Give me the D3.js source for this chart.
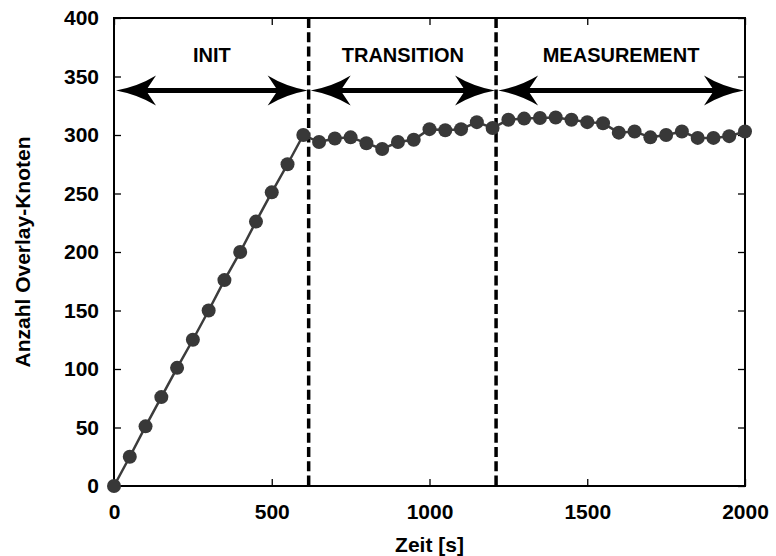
<!DOCTYPE html>
<html>
<head>
<meta charset="utf-8">
<script src="https://cdn.jsdelivr.net/npm/d3@7"></script>
<style>
  body { margin: 0; background: #fff; }
  svg text { font-family: "Liberation Sans", Arial, Helvetica, sans-serif; font-weight: bold; fill: #000; }
</style>
</head>
<body>
<svg id="chart" width="776" height="556"></svg>
<script>
// measured data
const times = [0, 50, 100, 150, 200, 250, 300, 350, 400, 450, 500, 550, 600,
  650, 700, 750, 800, 850, 900, 950, 1000, 1050, 1100, 1150, 1200,
  1250, 1300, 1350, 1400, 1450, 1500, 1550, 1600, 1650, 1700, 1750, 1800, 1850, 1900, 1950, 2000]
const nodes = [0, 25, 51, 76, 101, 125, 150, 176, 200, 226, 251, 275, 300,
  294, 297, 298, 293, 288, 294, 296, 305, 304, 305, 311, 306,
  313, 314, 314.5, 315, 313, 311, 310, 302, 303, 298, 300, 303, 297.5, 297.5, 299, 303]

const xTicks = [0, 500, 1000, 1500, 2000]
const yTicks = [0, 50, 100, 150, 200, 250, 300, 350, 400]

const phaseNames = ["INIT", "TRANSITION", "MEASUREMENT"]
const phaseBounds = [0, 617, 1211, 2000]
const arrowLevel = 338
const labelLevel = 362

const svg = d3.select("#chart")
const margin = { left: 114, top: 18, right: 31, bottom: 70 }
const W = 776, H = 556

const x = d3.scaleLinear().domain([0, 2000]).range([margin.left, W - margin.right])
const y = d3.scaleLinear().domain([0, 400]).range([H - margin.bottom, margin.top])

// ticks (inward, mirrored)
const tickLen = 7
const g = svg.append("g")
g.append("g").attr("transform", `translate(0,${y(0)})`)
  .call(d3.axisBottom(x).tickValues(xTicks).tickFormat(d3.format("d")).tickSize(-tickLen).tickPadding(18).tickSizeOuter(0))
g.append("g").attr("transform", `translate(0,${y(400)})`)
  .call(d3.axisTop(x).tickValues(xTicks).tickSize(-tickLen).tickFormat("").tickSizeOuter(0))
g.append("g").attr("transform", `translate(${x(0)},0)`)
  .call(d3.axisLeft(y).tickValues(yTicks).tickSize(-tickLen).tickPadding(15).tickSizeOuter(0))
g.append("g").attr("transform", `translate(${x(2000)},0)`)
  .call(d3.axisRight(y).tickValues(yTicks).tickSize(-tickLen).tickFormat("").tickSizeOuter(0))
g.selectAll(".domain").remove()
g.selectAll(".tick line").attr("stroke", "#000").attr("stroke-width", 1.3)
g.selectAll(".tick text").style("font-size", "21px").attr("fill", "#000")

// frame
svg.append("rect")
  .attr("x", x(0)).attr("y", y(400))
  .attr("width", x(2000) - x(0)).attr("height", y(0) - y(400))
  .attr("fill", "none").attr("stroke", "#000").attr("stroke-width", 2)

// phase separators
svg.selectAll(".sep").data(phaseBounds.slice(1, 3)).enter().append("line")
  .attr("x1", d => x(d)).attr("x2", d => x(d))
  .attr("y1", y(400)).attr("y2", y(0))
  .attr("stroke", "#000").attr("stroke-width", 3.5).attr("stroke-dasharray", "10,4.3")

// arrows
const headLen = 40, headHalf = 15
function head(tx, ty, dir) {
  // dir = +1 points right, -1 points left
  const bx = tx - dir * headLen
  const nx = tx - dir * 30
  return `M${tx},${ty} Q${tx - dir * 22},${ty - 4} ${bx},${ty - headHalf} L${nx},${ty} L${bx},${ty + headHalf} Q${tx - dir * 22},${ty + 4} ${tx},${ty} Z`
}
phaseNames.forEach((name, i) => {
  const x0 = x(phaseBounds[i]) + 2, x1 = x(phaseBounds[i + 1]) - 1
  const ay = y(arrowLevel)
  svg.append("line").attr("x1", x0 + 25).attr("x2", x1 - 25)
    .attr("y1", ay).attr("y2", ay).attr("stroke", "#000").attr("stroke-width", 5)
  svg.append("path").attr("d", head(x0, ay, -1)).attr("fill", "#000")
  svg.append("path").attr("d", head(x1, ay, 1)).attr("fill", "#000")
  svg.append("text").attr("x", (x0 + x1) / 2).attr("y", y(labelLevel))
    .attr("text-anchor", "middle").style("font-size", "20px").text(name)
})

// series
const line = d3.line().x((d, i) => x(times[i])).y(d => y(d))
svg.append("path").datum(nodes).attr("d", line)
  .attr("fill", "none").attr("stroke", "#3c3c3c").attr("stroke-width", 2.5)
svg.selectAll(".pt").data(nodes).enter().append("circle")
  .attr("cx", (d, i) => x(times[i])).attr("cy", d => y(d)).attr("r", 7)
  .attr("fill", "#383838")

// axis titles
svg.append("text").attr("x", (x(0) + x(2000)) / 2).attr("y", 552)
  .attr("text-anchor", "middle").style("font-size", "21px").text("Zeit [s]")
svg.append("text").attr("transform", `translate(29.5,${(y(0) + y(400)) / 2}) rotate(-90)`)
  .attr("text-anchor", "middle").style("font-size", "21px").text("Anzahl Overlay-Knoten")
</script>
</body>
</html>
